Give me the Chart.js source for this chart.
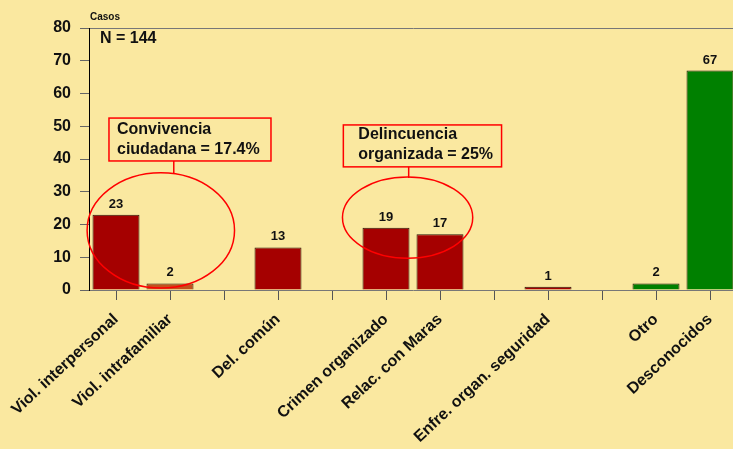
<!DOCTYPE html>
<html><head><meta charset="utf-8">
<script src="https://cdn.jsdelivr.net/npm/chart.js@4.4.0/dist/chart.umd.min.js"></script>
<style>html,body{margin:0;padding:0;background:#FAE8A0;overflow:hidden;width:733px;height:449px}canvas{display:block}</style>
</head><body>
<canvas id="c" width="737" height="449"></canvas>
<script>
// ---- data ----
const categories = ["Viol. interpersonal","Viol. intrafamiliar","","Del. común","","Crimen organizado","Relac. con Maras","","Enfre. organ. seguridad","","Otro","Desconocidos"];
const casos = [23, 2, null, 13, null, 19, 17, null, 1, null, 2, 67];
const barColors = ["#A50000","#C4501C",null,"#A50000",null,"#A50000","#A50000",null,"#A50000",null,"#008000","#008000"];
const yMin = 0, yMax = 80, yStep = 10;
const yTitle = "Casos";
const totalText = "N = 144";
const noteLines1 = ["Convivencia", "ciudadana = 17.4%"];
const noteLines2 = ["Delincuencia", "organizada = 25%"];

// annotation geometry in axis units (category index, value)
const groupNotes = [
  { lines: noteLines1, box: [-0.13, 2.87, 52.5, 39.4], ellipse: [0.83, 18.2, 1.365, 17.6], stem: [1.07, 35.7], inset: 8, base: 16 },
  { lines: noteLines2, box: [4.21, 7.14, 50.4, 37.6], ellipse: [5.4, 22.1, 1.206, 12.4], stem: [5.42, 34.2], inset: 15, base: 14 }
];

const FONT = "'Liberation Sans', Arial, sans-serif";
const BG = "#FAE8A0";

const decor = {
  id: 'decor',
  beforeDraw(chart) {
    const ctx = chart.ctx;
    ctx.save();
    ctx.fillStyle = BG;
    ctx.fillRect(0, 0, chart.width, chart.height);
    ctx.restore();
  },
  afterDatasetsDraw(chart) {
    const ctx = chart.ctx, xs = chart.scales.x, ys = chart.scales.y, ca = chart.chartArea;
    ctx.save();
    // value labels
    ctx.fillStyle = '#111';
    ctx.font = 'bold 13px ' + FONT;
    ctx.textAlign = 'center';
    ctx.textBaseline = 'alphabetic';
    chart.getDatasetMeta(0).data.forEach((bar, i) => {
      if (casos[i] == null) return;
      ctx.fillText(String(casos[i]), bar.x, bar.y - 7);
    });
    // axis title + total
    ctx.textAlign = 'left';
    ctx.font = 'bold 10px ' + FONT;
    ctx.fillText(yTitle, ca.left + 1, ca.top - 8);
    ctx.font = 'bold 16px ' + FONT;
    ctx.fillText(totalText, ca.left + 11, ca.top + 15);
    // group annotations
    const catW = xs.getPixelForValue(1) - xs.getPixelForValue(0);
    const unitH = ys.getPixelForValue(0) - ys.getPixelForValue(1);
    ctx.strokeStyle = '#FF0000';
    ctx.lineWidth = 1.5;
    groupNotes.forEach(n => {
      const l = xs.getPixelForValue(n.box[0]), r = xs.getPixelForValue(n.box[1]);
      const t = ys.getPixelForValue(n.box[2]), b = ys.getPixelForValue(n.box[3]);
      ctx.strokeRect(l, t, r - l, b - t);
      const sx = xs.getPixelForValue(n.stem[0]);
      ctx.beginPath();
      ctx.moveTo(sx, b);
      ctx.lineTo(sx, ys.getPixelForValue(n.stem[1]));
      ctx.stroke();
      ctx.beginPath();
      ctx.ellipse(xs.getPixelForValue(n.ellipse[0]), ys.getPixelForValue(n.ellipse[1]), n.ellipse[2] * catW, n.ellipse[3] * unitH, 0, 0, Math.PI * 2);
      ctx.stroke();
      ctx.fillStyle = '#111';
      ctx.font = 'bold 16px ' + FONT;
      n.lines.forEach((s, k) => ctx.fillText(s, l + n.inset, t + n.base + k * 20));
    });
    ctx.restore();
  }
};

new Chart(document.getElementById('c'), {
  type: 'bar',
  data: {
    labels: categories,
    datasets: [{
      data: casos,
      backgroundColor: barColors,
      borderColor: '#2a1a0a',
      borderWidth: 1,
      barPercentage: 0.87,
      categoryPercentage: 1
    }]
  },
  options: {
    responsive: false,
    animation: false,
    layout: { padding: { top: 28, right: 0, left: 0, bottom: 0 } },
    plugins: { legend: { display: false }, tooltip: { enabled: false } },
    scales: {
      x: {
        offset: true,
        grid: { offset: false, drawOnChartArea: false, drawTicks: true, tickLength: 10, tickColor: '#555', tickWidth: 1 },
        border: { color: '#777', width: 1 },
        ticks: { autoSkip: false, minRotation: 43, maxRotation: 43, color: '#111', padding: 10, font: { family: FONT, size: 16, weight: 'bold' } },
        afterFit(s) { s.height = 159; s.paddingLeft = 0; s.paddingRight = 0; }
      },
      y: {
        min: yMin, max: yMax,
        grid: { color: c => (c.tick && c.tick.value === yMax) ? '#777' : 'transparent', drawTicks: true, tickLength: 9, tickColor: '#666', tickWidth: 1 },
        border: { color: '#000', width: 1 },
        ticks: { stepSize: yStep, color: '#111', padding: 9, font: { family: FONT, size: 16, weight: 'bold' } },
        afterFit(s) { s.width = 89; }
      }
    }
  },
  plugins: [decor]
});
</script>
</body></html>
